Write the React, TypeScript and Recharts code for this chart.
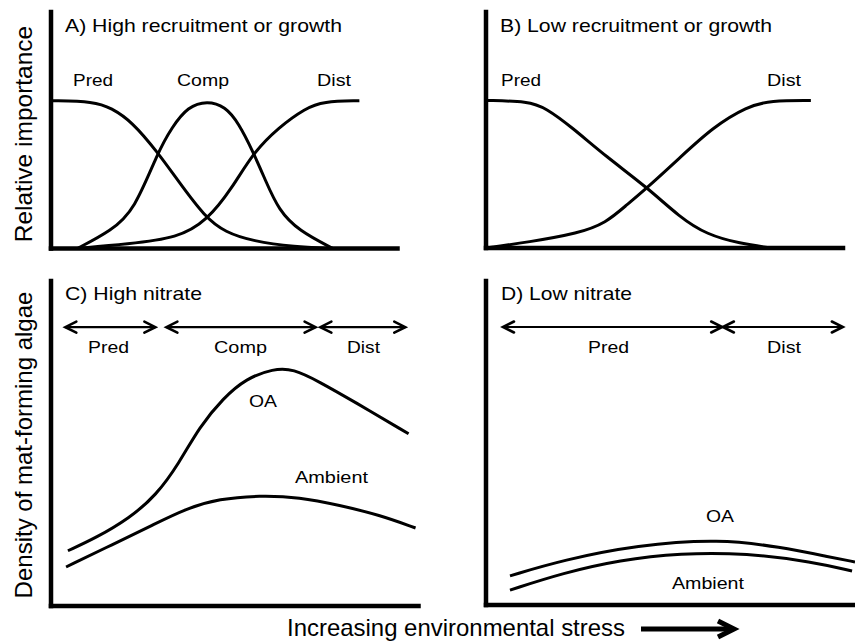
import React from 'react';
import { LineChart, Line, XAxis, YAxis, ReferenceLine } from 'recharts';

// ---------- data (conceptual units) ----------
// Panel A: High recruitment or growth (x: stress 0-100, y: relative importance, plateau = 100)
const predA = [
  { x: 0, y: 100 }, { x: 12.5, y: 99.5 }, { x: 17.4, y: 95 }, { x: 23.3, y: 86 },
  { x: 30.8, y: 65 }, { x: 36.6, y: 46 }, { x: 44.5, y: 21 }, { x: 50.3, y: 11 },
  { x: 58.1, y: 5 }, { x: 70.6, y: 1 }, { x: 80.2, y: 0 },
];
const compA = [
  { x: 7.6, y: 0 }, { x: 17.4, y: 12 }, { x: 24.1, y: 26 }, { x: 30.8, y: 65 },
  { x: 34.9, y: 82 }, { x: 39.5, y: 96 }, { x: 45.1, y: 100 }, { x: 50.3, y: 96 },
  { x: 54.1, y: 85 }, { x: 58.4, y: 65 }, { x: 61.9, y: 46 }, { x: 65.7, y: 26 },
  { x: 71.5, y: 12 }, { x: 81.4, y: 0 },
];
const distA = [
  { x: 7.6, y: 0 }, { x: 22.1, y: 3 }, { x: 36.6, y: 7 }, { x: 45.1, y: 19 },
  { x: 52.3, y: 41 }, { x: 58.4, y: 65 }, { x: 65.7, y: 82 }, { x: 73.5, y: 95 },
  { x: 78.5, y: 99.5 }, { x: 89, y: 100 },
];

// Panel B: Low recruitment or growth
const predB = [
  { x: 0, y: 100 }, { x: 11.9, y: 99.5 }, { x: 16.7, y: 95 }, { x: 24, y: 82 },
  { x: 33.6, y: 62 }, { x: 45.2, y: 41 }, { x: 54.2, y: 21 }, { x: 61.9, y: 9 },
  { x: 71.2, y: 3 }, { x: 79.7, y: 0 },
];
const distB = [
  { x: 0, y: 0 }, { x: 11.9, y: 4 }, { x: 26, y: 10 }, { x: 33.6, y: 17 },
  { x: 39.3, y: 29 }, { x: 45.2, y: 41 }, { x: 54.2, y: 61 }, { x: 63.6, y: 82 },
  { x: 73.2, y: 96 }, { x: 79.7, y: 100 }, { x: 91, y: 100 },
];

// Panel C: High nitrate (y: density of mat-forming algae)
const oaC = [
  { x: 4.6, y: 17 }, { x: 12.3, y: 21 }, { x: 21.3, y: 27 }, { x: 28.6, y: 34 },
  { x: 34.9, y: 44 }, { x: 40.3, y: 55 }, { x: 46.9, y: 64 }, { x: 53.1, y: 70 },
  { x: 60.5, y: 73 }, { x: 65.9, y: 73 }, { x: 73, y: 69 }, { x: 82.3, y: 63 },
  { x: 97.3, y: 53 },
];
const ambientC = [
  { x: 4.1, y: 12 }, { x: 16.9, y: 19 }, { x: 27.8, y: 25 }, { x: 36.8, y: 30 },
  { x: 45.8, y: 33 }, { x: 56.7, y: 34 }, { x: 67.6, y: 33.5 }, { x: 78.5, y: 31 },
  { x: 89.4, y: 28 }, { x: 99.2, y: 24 },
];

// Panel D: Low nitrate
const oaD = [
  { x: 6.5, y: 9 }, { x: 20.9, y: 13.9 }, { x: 40.9, y: 18.5 }, { x: 63.4, y: 20.4 },
  { x: 79.7, y: 17.9 }, { x: 93.2, y: 14.8 }, { x: 100, y: 13.3 },
];
const ambientD = [
  { x: 6.5, y: 4.6 }, { x: 20.9, y: 9.9 }, { x: 36.3, y: 13.9 }, { x: 52.6, y: 16 },
  { x: 70.7, y: 16 }, { x: 88.6, y: 13.3 }, { x: 99.2, y: 10.5 },
];

// Zone arrows (x ranges along stress axis)
const zonesC = [
  { name: 'Pred', from: 3.9, to: 28.4 },
  { name: 'Comp', from: 31.4, to: 72 },
  { name: 'Dist', from: 73.3, to: 96.4 },
];
const zonesD = [
  { name: 'Pred', from: 4.6, to: 64 },
  { name: 'Dist', from: 64.2, to: 96.7 },
];
const zoneLevel = 85.8;

// ---------- text ----------
const titles = ['A) High recruitment or growth', 'B) Low recruitment or growth', 'C) High nitrate', 'D) Low nitrate'];
const yLabels = ['Relative importance', 'Density of mat-forming algae'];
const xLabel = 'Increasing environmental stress';

const FONT = '"Liberation Sans", Arial, Helvetica, sans-serif';

type Pt = { x: number; y: number };
type Series = { key: string; data: Pt[]; arrow?: boolean };

const chevron = (props: any) => {
  const { cx, cy, index } = props;
  if (cx == null || cy == null) return <g key={`n${index}`} />;
  const dir = index === 0 ? 1 : -1;
  return (
    <path
      key={`c${index}`}
      d={`M${cx + dir * 11},${cy - 5.5} L${cx},${cy} L${cx + dir * 11},${cy + 5.5}`}
      fill="none"
      stroke="#000"
      strokeWidth={2.6}
      strokeLinecap="round"
      strokeLinejoin="miter"
    />
  );
};

function Panel(props: {
  rect: [number, number, number, number];
  xDomain: [number, number];
  yDomain: [number, number];
  series: Series[];
}) {
  const M = 14;
  const [l, t, r, b] = props.rect;
  const w = r - l;
  const h = b - t;
  return (
    <div style={{ position: 'absolute', left: l - M, top: t - M }}>
      <LineChart width={w + 2 * M} height={h + 2 * M} margin={{ top: M, right: M, bottom: M, left: M }}>
        <XAxis type="number" dataKey="x" domain={props.xDomain} allowDataOverflow hide />
        <YAxis type="number" dataKey="y" domain={props.yDomain} allowDataOverflow hide />
        {props.series.map((s) => (
          <Line
            key={s.key}
            data={s.data}
            dataKey="y"
            type={s.arrow ? 'linear' : 'basis'}
            stroke="#000"
            strokeWidth={s.arrow ? 2.2 : 3}
            dot={s.arrow ? chevron : false}
            activeDot={false}
            isAnimationActive={false}
          />
        ))}
        <ReferenceLine
          y={props.yDomain[0]}
          stroke="#000"
          strokeWidth={4.5}
          strokeLinecap="square"
          ifOverflow="visible"
        />
        <ReferenceLine
          x={props.xDomain[0]}
          stroke="#000"
          strokeWidth={4.5}
          strokeLinecap="square"
          ifOverflow="visible"
        />
      </LineChart>
    </div>
  );
}

function zoneSeries(prefix: string, zones: { name: string; from: number; to: number }[]): Series[] {
  return zones.map((z) => ({
    key: `${prefix}-${z.name}`,
    data: [{ x: z.from, y: zoneLevel }, { x: z.to, y: zoneLevel }],
    arrow: true,
  }));
}

function T(p: { x: number; y: number; w: number; fs: number; children: string }) {
  return (
    <text x={p.x} y={p.y} fontSize={p.fs} textLength={p.w} lengthAdjust="spacingAndGlyphs" fontFamily={FONT} fill="#000">
      {p.children}
    </text>
  );
}

export default function App() {
  return (
    <div style={{ position: 'absolute', left: 0, top: 0, width: 855, height: 641, background: '#fff', overflow: 'hidden' }}>
      <Panel
        rect={[50.5, 12, 397, 248.5]}
        xDomain={[0, 100]}
        yDomain={[0, 160]}
        series={[
          { key: 'predA', data: predA },
          { key: 'compA', data: compA },
          { key: 'distA', data: distA },
        ]}
      />
      <Panel
        rect={[486, 12, 843, 248]}
        xDomain={[0, 100]}
        yDomain={[0, 160]}
        series={[
          { key: 'predB', data: predB },
          { key: 'distB', data: distB },
        ]}
      />
      <Panel
        rect={[50.5, 281, 418, 606]}
        xDomain={[0, 100]}
        yDomain={[0, 100]}
        series={[
          { key: 'oaC', data: oaC },
          { key: 'ambientC', data: ambientC },
          ...zoneSeries('C', zonesC),
        ]}
      />
      <Panel
        rect={[486, 281, 855, 605]}
        xDomain={[0, 100]}
        yDomain={[0, 100]}
        series={[
          { key: 'oaD', data: oaD },
          { key: 'ambientD', data: ambientD },
          ...zoneSeries('D', zonesD),
        ]}
      />
      <svg
        width={855}
        height={641}
        style={{ position: 'absolute', left: 0, top: 0, pointerEvents: 'none' }}
      >
        {/* Panel titles */}
        <T x={65} y={32} w={277} fs={19}>{titles[0]}</T>
        <T x={500} y={32} w={272} fs={19}>{titles[1]}</T>
        <T x={65} y={300} w={137} fs={19}>{titles[2]}</T>
        <T x={501} y={300} w={131} fs={19}>{titles[3]}</T>

        {/* Panel A labels */}
        <T x={73} y={86} w={40} fs={17}>Pred</T>
        <T x={177} y={86} w={52} fs={17}>Comp</T>
        <T x={317} y={86} w={34} fs={17}>Dist</T>

        {/* Panel B labels */}
        <T x={501} y={86} w={40} fs={17}>Pred</T>
        <T x={767} y={86} w={34} fs={17}>Dist</T>

        {/* Panel C labels */}
        <T x={88} y={353} w={41} fs={17}>{zonesC[0].name}</T>
        <T x={214} y={353} w={53} fs={17}>{zonesC[1].name}</T>
        <T x={347} y={353} w={33} fs={17}>{zonesC[2].name}</T>
        <T x={249} y={407} w={28} fs={17}>OA</T>
        <T x={295} y={483} w={73} fs={17}>Ambient</T>

        {/* Panel D labels */}
        <T x={588} y={353} w={41} fs={17}>{zonesD[0].name}</T>
        <T x={767} y={353} w={34} fs={17}>{zonesD[1].name}</T>
        <T x={706} y={522} w={28} fs={17}>OA</T>
        <T x={672} y={589} w={72} fs={17}>Ambient</T>

        {/* Y axis labels */}
        <text transform="translate(32,134) rotate(-90)" textAnchor="middle" fontSize={24.5} fontFamily={FONT} fill="#000">
          {yLabels[0]}
        </text>
        <text transform="translate(32,445) rotate(-90)" textAnchor="middle" fontSize={24} fontFamily={FONT} fill="#000">
          {yLabels[1]}
        </text>

        {/* X axis label with arrow */}
        <text x={287} y={636} fontSize={24} textLength={338} lengthAdjust="spacingAndGlyphs" fontFamily={FONT} fill="#000">
          {xLabel}
        </text>
        <line x1={641} y1={629} x2={731} y2={629} stroke="#000" strokeWidth={5} />
        <path d="M718,621 L734,629 L718,637" fill="none" stroke="#000" strokeWidth={5} strokeLinejoin="miter" />
      </svg>
    </div>
  );
}
